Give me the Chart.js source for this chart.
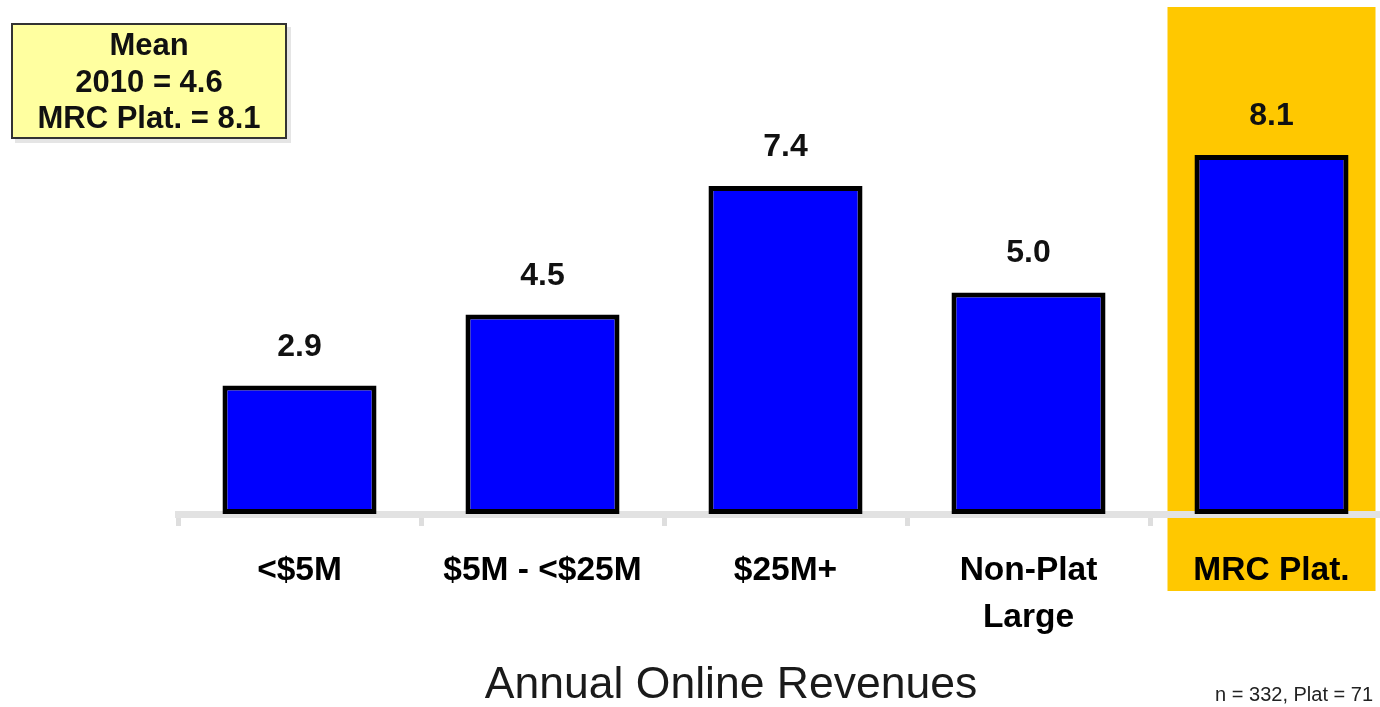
<!DOCTYPE html>
<html>
<head>
<meta charset="utf-8">
<script src="https://cdn.jsdelivr.net/npm/chart.js@4"></script>
<style>
  html, body { margin: 0; padding: 0; background: #fff; overflow: hidden; }
  #holder { width: 1380px; height: 707px; overflow: hidden; }
</style>
</head>
<body>
<div id="holder">
  <canvas id="myChart" width="1400" height="707"></canvas>
</div>
<script>
const categories = ["<$5M", "$5M - <$25M", "$25M+", ["Non-Plat", "Large"], "MRC Plat."];
const meanValues = [2.9, 4.5, 7.4, 5.0, 8.1];
const meanBoxLines = ["Mean", "2010 = 4.6", "MRC Plat. = 8.1"];
const axisTitle = "Annual Online Revenues";
const footNote = "n = 332, Plat = 71";
const highlightIndex = 4;

const fontName = "'Liberation Sans', Arial, sans-serif";

// orange column behind the platform category
const highlightPlugin = {
	id: "highlight",
	beforeDraw(chart) {
		const x = chart.scales.x;
		const step = x.getPixelForValue(1) - x.getPixelForValue(0);
		const cx = x.getPixelForValue(highlightIndex);
		const ctx = chart.ctx;
		ctx.save();
		ctx.fillStyle = "#ffc800";
		ctx.fillRect(cx - step * 0.428, chart.chartArea.top + 7, step * 0.856, 584);
		ctx.restore();
	}
};

// numbers above bars
const valuePlugin = {
	id: "values",
	afterDatasetsDraw(chart) {
		const ctx = chart.ctx;
		const meta = chart.getDatasetMeta(0);
		ctx.save();
		ctx.font = "bold 32px " + fontName;
		ctx.fillStyle = "#111";
		ctx.textAlign = "center";
		ctx.textBaseline = "alphabetic";
		meta.data.forEach((bar, i) => {
			ctx.fillText(meanValues[i].toFixed(1), bar.x, bar.y - 30);
		});
		ctx.restore();
	}
};

// mean box, axis title, footnote
const extrasPlugin = {
	id: "extras",
	afterDraw(chart) {
		const ctx = chart.ctx;
		ctx.save();
		// shadow
		ctx.fillStyle = "rgba(0,0,0,0.10)";
		ctx.fillRect(15, 27, 276, 116);
		ctx.fillStyle = "#ffffa0";
		ctx.fillRect(11, 23, 276, 116);
		ctx.strokeStyle = "#333";
		ctx.lineWidth = 2;
		ctx.strokeRect(12, 24, 274, 114);
		ctx.fillStyle = "#111";
		ctx.font = "bold 31px " + fontName;
		ctx.textAlign = "center";
		ctx.textBaseline = "alphabetic";
		const baselines = [55, 92, 128];
		meanBoxLines.forEach((t, i) => ctx.fillText(t, 149, baselines[i]));

		ctx.font = "44.5px " + fontName;
		ctx.fillStyle = "#1a1a1a";
		ctx.fillText(axisTitle, 731, 698);

		ctx.font = "20px " + fontName;
		ctx.textAlign = "right";
		ctx.fillStyle = "#222";
		ctx.fillText(footNote, 1373, 701);
		ctx.restore();
	}
};

const ctx = document.getElementById("myChart");
const myChart = new Chart(ctx, {
	type: "bar",
	data: {
		labels: categories,
		datasets: [
			{
				data: meanValues,
				backgroundColor: "#0000ff",
				borderColor: "#000",
				borderWidth: 5,
				borderSkipped: false,
				barPercentage: 0.634,
				categoryPercentage: 1.0,
			},
		],
	},
	options: {
		responsive: false,
		animation: false,
		layout: {
			padding: { top: 0, left: 178, right: 7, bottom: 0 }
		},
		plugins: {
			legend: { display: false },
			tooltip: { enabled: false },
		},
		scales: {
			x: {
				offset: true,
				grid: {
					offset: true,
					drawOnChartArea: false,
					drawTicks: true,
					tickLength: 12,
					lineWidth: 5,
					color: "#dedede",
				},
				border: {
					display: true,
					color: "#e2e2e2",
					width: 7,
				},
				ticks: {
					color: "#000",
					padding: 21,
					maxRotation: 0,
					autoSkip: false,
					font: { family: fontName, size: 33.5, weight: "bold", lineHeight: 47 / 33.5 },
				},
				afterFit(scale) {
					scale.height = 193;
				},
			},
			y: {
				display: false,
				min: 0,
				max: 11.6,
			},
		},
	},
	plugins: [highlightPlugin, valuePlugin, extrasPlugin],
});
</script>
</body>
</html>
